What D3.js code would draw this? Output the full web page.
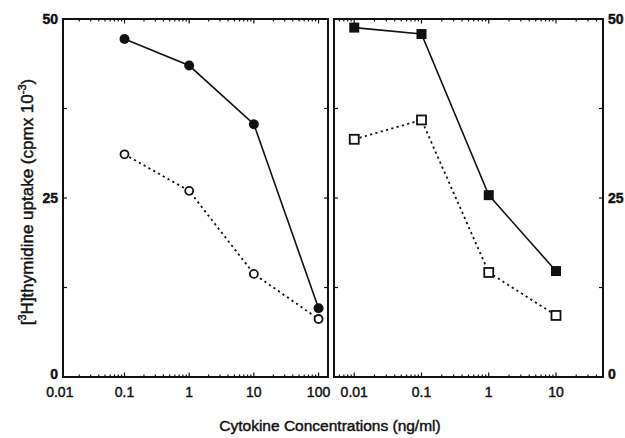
<!DOCTYPE html>
<html>
<head>
<meta charset="utf-8">
<script src="https://cdn.jsdelivr.net/npm/d3@7/dist/d3.min.js"></script>
<style>
  body { margin: 0; background: #fff; }
  text { font-family: "Liberation Sans", Arial, Helvetica, sans-serif; fill: #111; stroke: #111; stroke-width: 0.45px; }
</style>
</head>
<body>
<svg id="chart" width="625" height="438"></svg>
<script>
// concentrations (ng/ml) et valeurs (cpm x 10^-3)
const leftDoses = [0.1, 1, 10, 100];
const leftFilled = [47.2, 43.5, 35.3, 9.6];
const leftOpen = [31.1, 26.0, 14.4, 8.1];

const rightDoses = [0.01, 0.1, 1, 10];
const rightFilled = [48.8, 47.9, 25.4, 14.8];
const rightOpen = [33.2, 35.9, 14.6, 8.6];

const leftTickLabels = [0.01, 0.1, 1, 10, 100];
const rightTickLabels = [0.01, 0.1, 1, 10];
const yTickLabels = [0, 25, 50];
const yTickMarks = [0, 12.5, 25, 37.5, 50];

const svg = d3.select("#chart");
const yTop = 19, yBottom = 377;

const y = d3.scaleLinear().domain([0, 50]).range([yBottom, yTop]);

const panels = [
  { x0: 63, x1: 328, domain: [0.0112, 140], doses: leftDoses, filled: leftFilled, open: leftOpen,
    labels: leftTickLabels, marker: "circle", ySide: "left" },
  { x0: 334, x1: 603, domain: [0.005, 50], doses: rightDoses, filled: rightFilled, open: rightOpen,
    labels: rightTickLabels, marker: "square", ySide: "right" }
];

panels.forEach(p => {
  const x = d3.scaleLog().domain(p.domain).range([p.x0, p.x1]);
  const g = svg.append("g");

  // ticks mineurs et majeurs (haut et bas, vers l'intérieur)
  const lo = Math.floor(Math.log10(p.domain[0])), hi = Math.ceil(Math.log10(p.domain[1]));
  const ticks = [];
  for (let n = lo; n <= hi; n++) {
    for (let k = 1; k <= 9; k++) {
      const v = k * Math.pow(10, n);
      if (v >= p.domain[0] && v <= p.domain[1]) ticks.push({ v: v, major: k === 1 });
    }
  }
  ticks.forEach(t => {
    const len = t.major ? 4.5 : 2.5;
    g.append("line").attr("x1", x(t.v)).attr("x2", x(t.v))
      .attr("y1", yBottom).attr("y2", yBottom - len)
      .attr("stroke", "#111").attr("stroke-width", 1.2);
    g.append("line").attr("x1", x(t.v)).attr("x2", x(t.v))
      .attr("y1", yTop).attr("y2", yTop + len)
      .attr("stroke", "#111").attr("stroke-width", 1.2);
  });

  // ticks y sur les deux bords
  yTickMarks.forEach(v => {
    g.append("line").attr("x1", p.x0).attr("x2", p.x0 + 4)
      .attr("y1", y(v)).attr("y2", y(v)).attr("stroke", "#111").attr("stroke-width", 1.2);
    g.append("line").attr("x1", p.x1).attr("x2", p.x1 - 4)
      .attr("y1", y(v)).attr("y2", y(v)).attr("stroke", "#111").attr("stroke-width", 1.2);
  });

  // cadre
  g.append("rect").attr("x", p.x0).attr("y", yTop)
    .attr("width", p.x1 - p.x0).attr("height", yBottom - yTop)
    .attr("fill", "none").attr("stroke", "#111").attr("stroke-width", 2);

  // étiquettes x
  g.selectAll(".xl").data(p.labels).enter().append("text")
    .attr("x", d => x(d)).attr("y", 397)
    .attr("text-anchor", "middle").attr("font-size", 14)
    .text(d => String(d));

  // étiquettes y
  g.selectAll(".yl").data(yTickLabels).enter().append("text")
    .attr("x", p.ySide === "left" ? p.x0 - 5 : p.x1 + 5)
    .attr("y", d => d === 0 ? y(d) + 2 : y(d) + 5)
    .attr("text-anchor", p.ySide === "left" ? "end" : "start")
    .attr("font-size", 14).attr("font-weight", "bold")
    .text(d => d);

  const line = d3.line().x(d => x(d[0])).y(d => y(d[1]));
  const filledData = p.doses.map((d, i) => [d, p.filled[i]]);
  const openData = p.doses.map((d, i) => [d, p.open[i]]);

  g.append("path").datum(openData).attr("d", line)
    .attr("fill", "none").attr("stroke", "#111").attr("stroke-width", 1.8)
    .attr("stroke-dasharray", "2.2,3.3");
  g.append("path").datum(filledData).attr("d", line)
    .attr("fill", "none").attr("stroke", "#111").attr("stroke-width", 1.6);

  if (p.marker === "circle") {
    g.selectAll(".of").data(openData).enter().append("circle")
      .attr("cx", d => x(d[0])).attr("cy", d => y(d[1])).attr("r", 4)
      .attr("fill", "#fff").attr("stroke", "#111").attr("stroke-width", 1.8);
    g.selectAll(".ff").data(filledData).enter().append("circle")
      .attr("cx", d => x(d[0])).attr("cy", d => y(d[1])).attr("r", 5)
      .attr("fill", "#111");
  } else {
    g.selectAll(".of").data(openData).enter().append("rect")
      .attr("x", d => x(d[0]) - 4.5).attr("y", d => y(d[1]) - 4.5)
      .attr("width", 9).attr("height", 9)
      .attr("fill", "#fff").attr("stroke", "#111").attr("stroke-width", 1.8);
    g.selectAll(".ff").data(filledData).enter().append("rect")
      .attr("x", d => x(d[0]) - 5).attr("y", d => y(d[1]) - 5)
      .attr("width", 10).attr("height", 10)
      .attr("fill", "#111");
  }
});

// titres des axes
svg.append("text")
  .attr("transform", "translate(33," + ((yTop + yBottom) / 2 + 4) + ") rotate(-90)")
  .attr("text-anchor", "middle").attr("font-size", 17)
  .html('[<tspan dy="-7" font-size="11">3</tspan><tspan dy="7">H]thymidine uptake (cpmx 10</tspan><tspan dy="-7" font-size="11">-3</tspan><tspan dy="7">)</tspan>');

svg.append("text")
  .attr("x", 330).attr("y", 431)
  .attr("text-anchor", "middle").attr("font-size", 15.5)
  .text("Cytokine Concentrations (ng/ml)");
</script>
</body>
</html>
